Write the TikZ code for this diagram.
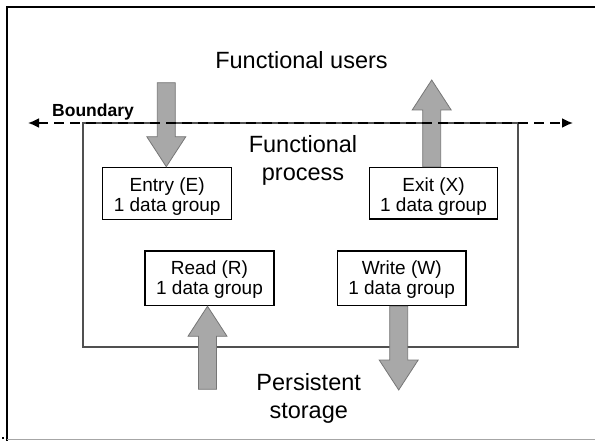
\documentclass[tikz,border=0pt]{standalone}
\usepackage{fontspec}
\setmainfont{Liberation Sans}
\usetikzlibrary{calc,arrows.meta}
\definecolor{arrowfill}{RGB}{168,168,168}
\definecolor{arrowline}{RGB}{118,118,118}
\definecolor{procline}{RGB}{80,80,80}
\tikzset{
  blockarrowstyle/.style={fill=arrowfill, draw=arrowline, line width=0.8pt, line join=miter},
  boxstyle/.style={draw=black, fill=white, line width=1.2pt, inner sep=0pt},
  boxtext/.style={font=\fontsize{19}{20}\selectfont, align=center, inner sep=0pt},
  bigtext/.style={font=\fontsize{23.5}{28}\selectfont, align=center, inner sep=0pt},
  boundaryline/.style={line width=1.8pt, dash pattern=on 10pt off 6pt,
    {Latex[length=11pt,width=10pt]}-{Latex[length=11pt,width=10pt]}},
}
\newcommand\blockarrow[2]{%
  \coordinate (ba-base) at ($(#2)!30pt!(#1)$);
  \draw[blockarrowstyle] ($(#1)!9pt!90:(#2)$) -- ($(ba-base)!9pt!-90:(#1)$)
    -- ($(ba-base)!19.5pt!-90:(#1)$) -- (#2) -- ($(ba-base)!19.5pt!90:(#1)$)
    -- ($(ba-base)!9pt!90:(#1)$) -- ($(#1)!9pt!-90:(#2)$) -- cycle;}
\begin{document}
\begin{tikzpicture}[x=1pt,y=-1pt]
\useasboundingbox (0,0) rectangle (595,441);
% outer frame
\draw[line width=1.8pt] (7,441) -- (7,7) -- (595,7);
\draw[black!35, line width=1.2pt] (7,439.5) -- (595,439.5);
\fill (2,437) rectangle (4,439);
% functional process boundary
\node[draw=procline, line width=1.1pt, minimum width=435, minimum height=224, inner sep=0pt] (proc) at (300.5,235) {};
% boxes (geometry)
\node[boxstyle, minimum width=129, minimum height=52] (entry) at (167.2,193.3) {};
\node[boxstyle, minimum width=128.4, minimum height=51.7] (exit) at (433.5,193.2) {};
\node[boxstyle, minimum width=129, minimum height=54.7] (read) at (209.5,278.3) {};
\node[boxstyle, minimum width=128.7, minimum height=54.7] (write) at (401.7,278.3) {};
% arrows
\coordinate (entrytail) at (166.3,82.7);
\coordinate (entrytip) at (entrytail |- entry.north);
\blockarrow{entrytail}{entrytip}
\coordinate (exittip) at (431.7,80);
\coordinate (exittail) at (exittip |- exit.north);
\blockarrow{exittail}{exittip}
\coordinate (readtail) at (207.5,389.3);
\coordinate (readtip) at (readtail |- read.south);
\blockarrow{readtail}{readtip}
\coordinate (writetip) at (398.7,390);
\coordinate (writetail) at (writetip |- write.south);
\blockarrow{writetail}{writetip}
% boundary line
\coordinate (bl) at (28,123);
\coordinate (br) at (573,123);
\draw[boundaryline] (bl) -- (br);
\node[font=\bfseries\fontsize{17.5}{20}\selectfont, anchor=base west, inner sep=0pt] (blabel) at (52,116.7) {Boundary};
% box texts
\node[boxtext] (entrytext) at ($(entry.center)+(0,3.2)$) {Entry (E)\\1 data group};
\node[boxtext] (exittext) at ($(exit.center)+(0,3.2)$) {Exit (X)\\1 data group};
\node[boxtext] (readtext) at ($(read.center)+(0,1.5)$) {Read (R)\\1 data group};
\node[boxtext] (writetext) at ($(write.center)+(0,1.5)$) {Write (W)\\1 data group};
% big labels
\node[bigtext, anchor=base] (users) at (301.5,69) {Functional users};
\node[bigtext] (process) at (303,160.9) {Functional\\process};
\node[bigtext] (storage) at (308.7,398) {Persistent\\storage};
\end{tikzpicture}
\end{document}
